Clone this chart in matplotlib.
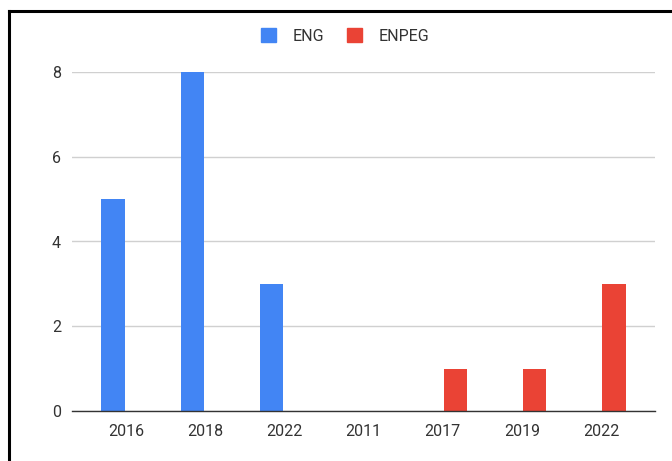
import numpy as np
import matplotlib as mpl
import matplotlib.pyplot as plt
from matplotlib.lines import Line2D
from matplotlib.patches import Patch

# data
categories = ['2016', '2018', '2022', '2011', '2017', '2019', '2022']
eng = [5, 8, 3, 0, 0, 0, 0]
enpeg = [0, 0, 0, 0, 1, 1, 3]

plt.rcParams['font.family'] = ['Roboto', 'DejaVu Sans']

W, H = 672, 461
fig = plt.figure(figsize=(W/100.0, H/100.0), dpi=100)
ax = fig.add_axes([72.0/W, 1-411.0/H, (655.0-72.0)/W, (411.0-72.0)/H])

x = np.arange(len(categories))
bw = 0.3
off = 0.16
c_eng = '#4285f4'
c_enpeg = '#ea4335'
ax.bar(x - off, eng, width=bw, color=c_eng, zorder=3)
ax.bar(x + off, enpeg, width=bw, color=c_enpeg, zorder=3)

ax.set_xlim(-0.68, len(categories) - 0.32)
ax.set_ylim(0, 8)
ax.set_yticks([0, 2, 4, 6, 8])
ax.set_xticks(x)
ax.set_xticklabels(categories)
ax.tick_params(axis='both', length=0, labelsize=11.5, colors='#333333')
ax.tick_params(axis='x', pad=9)
ax.tick_params(axis='y', pad=8)
ax.yaxis.grid(True, color='#d0d0d0', linewidth=1.0, zorder=0)
for s in ['top', 'right', 'left']:
    ax.spines[s].set_visible(False)
ax.spines['bottom'].set_color('#333333')
ax.spines['bottom'].set_linewidth(1.0)
ax.spines['bottom'].set_zorder(4)

handles = [Patch(color=c_eng, label='ENG'), Patch(color=c_enpeg, label='ENPEG')]
fig.legend(handles=handles, loc='center', bbox_to_anchor=(345.0/W, 1-36.0/H), ncol=2,
           frameon=False, fontsize=11.5, handlelength=0.95, handleheight=1.0,
           handletextpad=1.0, columnspacing=1.45, labelcolor='#333333')

# outer frame (cropped screenshot border)
fig.add_artist(Line2D([8.5/W, 1.0], [1-11.0/H, 1-11.0/H], color='black', linewidth=2.2,
                      solid_capstyle='projecting', transform=fig.transFigure))
fig.add_artist(Line2D([8.5/W, 8.5/W], [0.0, 1-11.0/H], color='black', linewidth=2.2,
                      solid_capstyle='projecting', transform=fig.transFigure))

fig.savefig('out.png', dpi=100)
